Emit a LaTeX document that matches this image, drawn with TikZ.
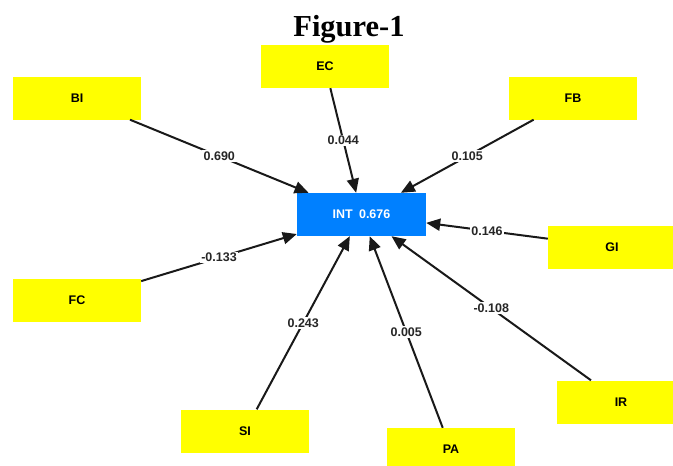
\documentclass[tikz,border=0pt]{standalone}
\usepackage{fontspec}
\setmainfont{Liberation Serif}
\newfontfamily\arialf{Liberation Sans}
\usetikzlibrary{arrows.meta}
\definecolor{boxyellow}{RGB}{255,255,0}
\definecolor{intblue}{RGB}{0,128,255}
\begin{document}
\begin{tikzpicture}[x=1pt,y=-1pt,
  ind/.style={fill=boxyellow, minimum width=128pt, minimum height=43pt, inner sep=0pt,
    font=\arialf\bfseries\fontsize{12.5}{14}\selectfont},
  intbox/.style={fill=intblue, text=white, minimum width=129pt, minimum height=43pt, inner sep=0pt,
    font=\arialf\bfseries\fontsize{12.5}{14}\selectfont},
  conn/.style={-{Triangle[length=14pt,width=12pt]}, line width=2pt, black!90},
  lab/.style={fill=white, inner sep=1.5pt, text=black!85, font=\arialf\bfseries\fontsize{12.5}{14}\selectfont}]
\useasboundingbox (0,0) rectangle (673,466);
\clip (0,0) rectangle (673,466);
\node[anchor=base, font=\bfseries\fontsize{30.5}{33}\selectfont] (title) at (349,36) {Figure-1};
\node[intbox] (int) at (361.5,214.5) {INT\hspace{0.5em}0.676};
\node[ind] (bi) at (77,98) {BI};
\node[ind] (ec) at (325,66.5) {EC};
\node[ind] (fb) at (573,98) {FB};
\node[ind] (gi) at (612,247) {GI};
\node[ind] (fc) at (77,300.5) {FC};
\node[ind] (si) at (245,431) {SI};
\node[ind] (pa) at (451,449.5) {PA};
\node[ind] (ir) at (621,402) {IR};
\draw[conn] (bi) -- node[lab] (lbi) {0.690} (int);
\draw[conn] (ec) -- node[lab] (lec) {0.044} (int);
\draw[conn] (fb) -- node[lab] (lfb) {0.105} (int);
\draw[conn] (gi) -- node[lab] (lgi) {0.146} (int);
\draw[conn] (fc) -- node[lab] (lfc) {-0.133} (int);
\draw[conn] (si) -- node[lab] (lsi) {0.243} (int);
\draw[conn] (pa) -- node[lab] (lpa) {0.005} (int);
\draw[conn] (ir) -- node[lab] (lir) {-0.108} (int);
\end{tikzpicture}
\end{document}
